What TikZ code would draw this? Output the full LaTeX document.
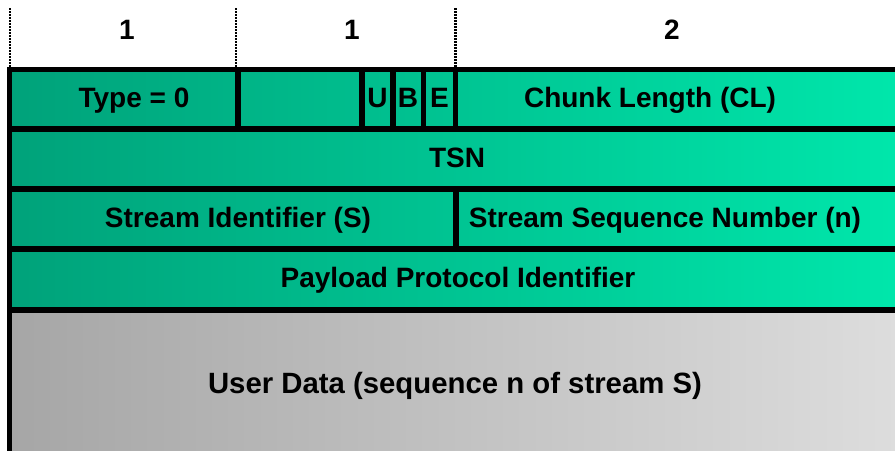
\documentclass[tikz,border=0pt]{standalone}
\usepackage{fontspec}
\setmainfont{Liberation Sans}
\usetikzlibrary{positioning}
\definecolor{chunkdark}{RGB}{0,162,122}
\definecolor{chunklight}{RGB}{0,232,172}
\definecolor{datadark}{RGB}{166,166,166}
\definecolor{datalight}{RGB}{222,222,222}

\begin{document}
\begin{tikzpicture}[
    x=0.75pt, y=-0.75pt,
    field/.style={font=\fontsize{21}{24}\selectfont\bfseries, inner sep=0pt, anchor=base},
    border/.style={line width=4.1pt},
    octet/.style={line width=1.7pt, dash pattern=on 1.4pt off 0.85pt}
]
    \useasboundingbox (0,0) rectangle (895,450);
    \clip (0,0) rectangle (895,450);

    % Fills
    \shade[left color=chunkdark, right color=chunklight] (9.5,69.5) rectangle (915,310);
    \shade[left color=datadark, right color=datalight] (9.5,310) rectangle (915,470);

    % Octet marks
    \draw[octet] (10,8) -- (10,67);
    \draw[octet] (236,8) -- (236,67);
    \draw[octet] (455.5,8) -- (455.5,67);
    \node[field] (oct1) at (127,39.5) {1};
    \node[field] (oct2) at (352,39.5) {1};
    \node[field] (oct3) at (672,39.5) {2};

    % Grid
    \draw[border] (915,69.5) -- (9.5,69.5) -- (9.5,470);
    \foreach \y in {129,189,249,310}
        \draw[border] (9.5,\y) -- (915,\y);
    \foreach \x in {238,362,393,423.5,455.5}
        \draw[border] (\x,69.5) -- (\x,129);
    \draw[border] (456,189) -- (456,249);

    % Row 1
    \node[field] (type) at (134,107.5) {Type = 0};
    \node[field] (uflag) at (377.5,107.5) {U};
    \node[field] (bflag) at (408,107.5) {B};
    \node[field] (eflag) at (439.5,107.5) {E};
    \node[field] (length) at (650,107.5) {Chunk Length (CL)};

    % Rows 2-4
    \node[field] (tsn) at (457,167.5) {TSN};
    \node[field] (sid) at (238,227.5) {Stream Identifier (S)};
    \node[field] (ssn) at (665,227.5) {Stream Sequence Number (n)};
    \node[field] (ppid) at (458,287.5) {Payload Protocol Identifier};

    % Payload
    \node[field, font=\fontsize{22}{26}\selectfont\bfseries] (udata) at (455,393) {User Data (sequence n of stream S)};
\end{tikzpicture}
\end{document}
